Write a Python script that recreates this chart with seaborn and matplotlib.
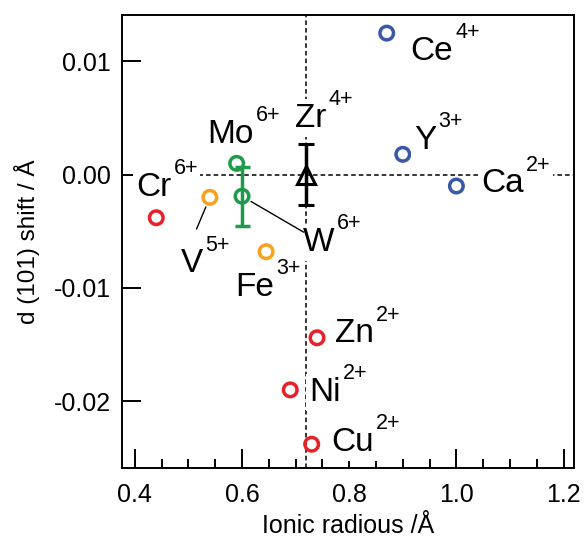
import matplotlib
matplotlib.use("Agg")
import matplotlib.pyplot as plt
import seaborn as sns
import pandas as pd

# dopant ions: Shannon radius vs. d(101) shift
ions = ["Ce", "Y", "Ca", "Cr", "V", "Fe", "Mo", "W", "Zn", "Ni", "Cu"]
charges = ["4+", "3+", "2+", "6+", "5+", "3+", "6+", "6+", "2+", "2+", "2+"]
radius = [0.87, 0.90, 1.00, 0.44, 0.54, 0.645, 0.59, 0.60, 0.74, 0.69, 0.73]
shift = [0.0125, 0.0018, -0.0010, -0.0038, -0.0020, -0.0068,
         0.0010, -0.0019, -0.0144, -0.0190, -0.0238]
group = ["blue", "blue", "blue", "red", "orange", "orange",
         "green", "green", "red", "red", "red"]

# host Zr4+ reference and error bars
host_radius = [0.72]
host_shift = [0.0]
host_err = [0.0027]
w_err = 0.0026

PALETTE = {"blue": "#3b58a8", "red": "#e6212a", "orange": "#f7a21e", "green": "#1e9a4a"}

# label offsets (points) of each main label relative to its marker
LABEL_OFFSETS = {
    "Ce": (17, -19), "Y": (8, 4), "Ca": (18, -4.5), "Cr": (-14.5, 16),
    "V": (-21, -54), "Fe": (-22.5, -31.7), "Mo": (-21, 14.8),
    "W": (44, -39.4), "Zn": (13, -3.1), "Ni": (14, -7.9), "Cu": (14.3, -4.8),
    "Zr": (-7.9, 34.6),
}
LEADERS = {"V": (-9.6, -22.8), "W": (44.4, -25.9)}

sns.set_theme(style="white")
plt.rcParams["font.family"] = ["Liberation Sans", "DejaVu Sans"]
plt.rcParams["text.color"] = "black"
plt.rcParams["axes.labelcolor"] = "black"

df = pd.DataFrame({"ion": ions, "charge": charges, "radius": radius,
                   "shift": shift, "group": group})

fig = plt.figure(figsize=(5.85, 5.4), dpi=100)
ax = fig.add_axes([0.2085, 0.1333, 0.7732, 0.8389])

# reference lines through host
dash = (0, (3, 2))
ax.axvline(host_radius[0], color="black", lw=1.1, ls=dash, zorder=1)
ax.axhline(host_shift[0], color="black", lw=1.1, ls=dash, zorder=1)

# W error bar
w = df[df.ion == "W"]
ax.errorbar(w.radius, w["shift"], yerr=w_err, fmt="none", ecolor=PALETTE["green"],
            elinewidth=2.5, capsize=5.4, capthick=2.5, zorder=3)

sns.scatterplot(data=df, x="radius", y="shift", hue="group", palette=PALETTE,
                s=95, linewidth=2.5, legend=False, ax=ax, zorder=4)
coll = ax.collections[-1]
coll.set_edgecolors(coll.get_facecolors())
coll.set_facecolors("none")

# host Zr4+
ax.errorbar(host_radius, host_shift, yerr=host_err, fmt="^", color="black",
            mfc="none", mec="black", ms=13, mew=2.2, elinewidth=2.5,
            capsize=6, capthick=2.5, zorder=4)

box = dict(boxstyle="square,pad=0.1", fc="white", ec="none")


def put_label(name, charge, x, y):
    dx, dy = LABEL_OFFSETS[name]
    t = ax.annotate(name, xy=(x, y), xytext=(dx, dy), textcoords="offset points",
                    ha="left", va="baseline", fontsize=24, color="black",
                    bbox=box, zorder=5)
    ax.annotate(charge, xy=(1.0, 0.92), xycoords=t, xytext=(1.5, 0),
                textcoords="offset points", ha="left", va="baseline",
                fontsize=15.5, color="black", bbox=box, zorder=5)


for _, r in df.iterrows():
    put_label(r.ion, r.charge, r.radius, r["shift"])
put_label("Zr", "4+", host_radius[0], host_shift[0])

for name, (dx, dy) in LEADERS.items():
    r = df[df.ion == name].iloc[0]
    ax.annotate("", xy=(r.radius, r["shift"]), xytext=(dx, dy),
                textcoords="offset points",
                arrowprops=dict(arrowstyle="-", color="black", lw=1.0,
                                shrinkA=0, shrinkB=7.5), zorder=5)

ax.set_xlim(0.376, 1.22)
ax.set_ylim(-0.0259, 0.0141)
ax.set_xticks([0.4, 0.6, 0.8, 1.0, 1.2])
ax.set_xticks([0.45, 0.5, 0.55, 0.65, 0.7, 0.75, 0.85, 0.9, 0.95,
               1.05, 1.1, 1.15], minor=True)
ax.set_yticks([0.01, 0.0, -0.01, -0.02])
ax.set_yticklabels(["0.01", "0.00", "-0.01", "-0.02"])
ax.set_xticklabels(["0.4", "0.6", "0.8", "1.0", "1.2"])

ax.tick_params(axis="both", which="major", direction="in", length=13.7, width=1.4,
               labelsize=18, color="black", labelcolor="black")
ax.tick_params(axis="x", which="major", pad=11)
ax.tick_params(axis="y", which="major", pad=8, left=True)
ax.tick_params(axis="x", which="minor", direction="in", length=6.5, width=1.4,
               bottom=True, color="black")
ax.tick_params(axis="x", bottom=True)

for s in ax.spines.values():
    s.set_color("black")
    s.set_linewidth(1.4)

ax.set_xlabel("Ionic radious /Å", fontsize=18, labelpad=5)
ax.set_ylabel("d (101) shift / Å", fontsize=17.5, labelpad=10)

fig.savefig("out.png", dpi=100, facecolor="white")
